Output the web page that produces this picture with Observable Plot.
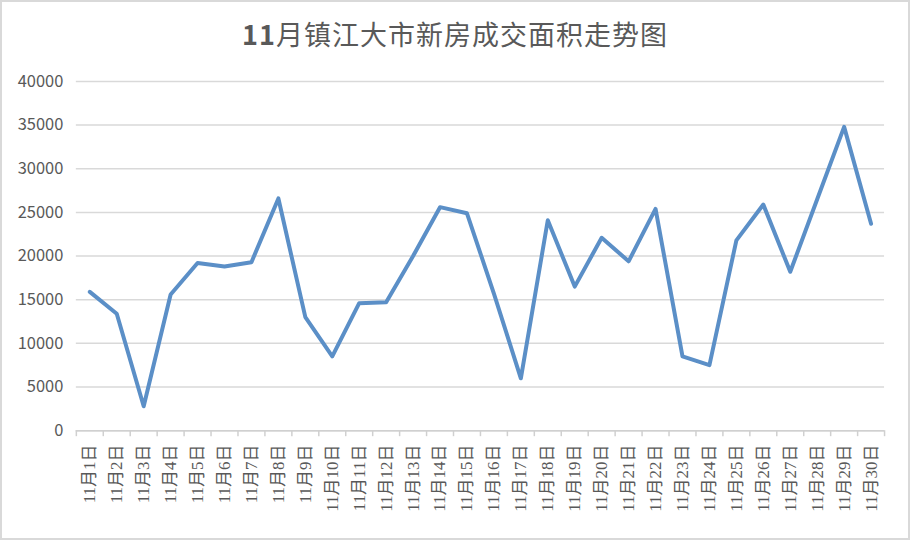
<!DOCTYPE html>
<html>
<head>
<meta charset="utf-8">
<script src="https://cdn.jsdelivr.net/npm/d3@7"></script>
<script src="https://cdn.jsdelivr.net/npm/@observablehq/plot@0.6"></script>
<style>
  html, body { margin: 0; padding: 0; background: #fff; }
  #chart { width: 910px; height: 540px; box-sizing: border-box; border: 2px solid #d9d9d9; position: relative; overflow: hidden; font-family: "Noto Sans CJK SC", "Noto Sans", sans-serif; }
  #title { position: absolute; left: 0; top: 12px; width: 906px; text-align: center; font-size: 27px; color: #595959; line-height: 40px; letter-spacing: 1px; }
  #title b { font-weight: 700; }
  #plot { position: absolute; left: -2px; top: 58px; }
</style>
</head>
<body>
<div id="chart">
  <div id="title"><b>11</b>月镇江大市新房成交面积走势图</div>
  <div id="plot"></div>
</div>
<script>
const days = ["11月1日","11月2日","11月3日","11月4日","11月5日","11月6日","11月7日","11月8日","11月9日","11月10日",
  "11月11日","11月12日","11月13日","11月14日","11月15日","11月16日","11月17日","11月18日","11月19日","11月20日",
  "11月21日","11月22日","11月23日","11月24日","11月25日","11月26日","11月27日","11月28日","11月29日","11月30日"];
const values = [15900, 13400, 2800, 15600, 19200, 18800, 19300, 26600, 13000, 8500,
  14600, 14700, 20000, 25600, 24900, 15700, 6000, 24100, 16500, 22100,
  19400, 25400, 8500, 7500, 21800, 25900, 18200, 26500, 34800, 23700];
const yTicks = [0, 5000, 10000, 15000, 20000, 25000, 30000, 35000, 40000];

const idx = days.map((d, i) => i + 1);
const bounds = [0.5, ...days.map((d, i) => i + 1.5)];

const chart = Plot.plot({
  width: 910,
  height: 480,
  marginTop: 21,
  marginBottom: 109,
  marginLeft: 76,
  marginRight: 24,
  style: { fontFamily: '"Noto Sans CJK SC", "Noto Sans", sans-serif', background: "transparent" },
  x: { domain: [0.5, 30.5], axis: null },
  y: { domain: [0, 40000], axis: null },
  marks: [
    Plot.gridY(yTicks, { stroke: "#d9d9d9", strokeOpacity: 1, strokeWidth: 1.5 }),
    Plot.axisY(yTicks, { tickSize: 0, tickPadding: 13, fontSize: 16.5, fill: "#595959", tickFormat: d => String(d) }),
    Plot.axisX(bounds, { tickSize: 6, stroke: "#d0d0d0", strokeWidth: 1.5, tickFormat: () => "" }),
    Plot.axisX(idx, { tickSize: 0, tickPadding: 14, tickRotate: -90, fontSize: 17, fontFamily: '"Liberation Serif", "Noto Sans CJK SC", serif', fill: "#595959", tickFormat: i => days[i - 1] }),
    Plot.ruleY([0], { stroke: "#d0d0d0", strokeWidth: 1.5 }),
    Plot.lineY(values, { x: (d, i) => i + 1, y: d => d, stroke: "#5b8fc7", strokeWidth: 4, strokeLinejoin: "round" })
  ]
});
document.getElementById("plot").appendChild(chart);
</script>
</body>
</html>
